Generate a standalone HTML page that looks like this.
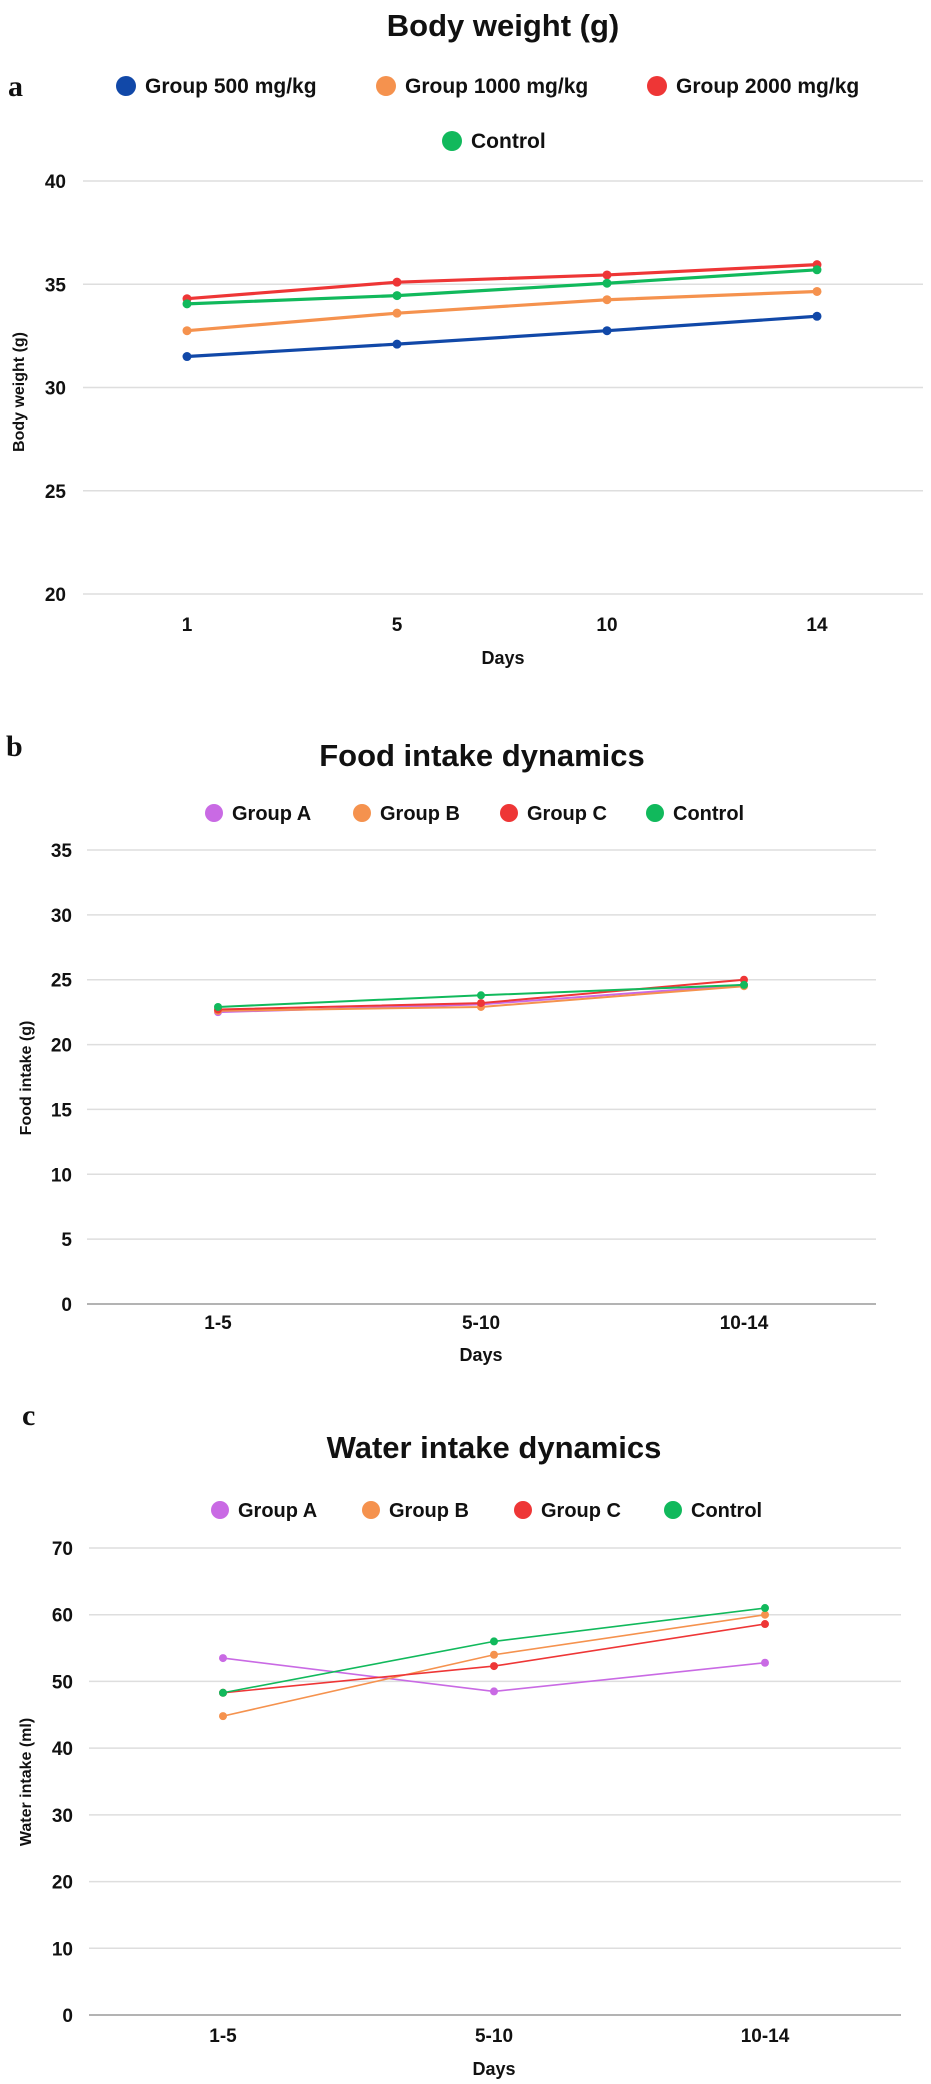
<!DOCTYPE html>
<html><head><meta charset="utf-8">
<style>
html,body{margin:0;padding:0;background:#fff;}
svg{display:block;font-family:"Liberation Sans",sans-serif;}
text{font-weight:bold;fill:#111;}
</style></head>
<body>
<svg id="fig" width="931" height="2084" viewBox="0 0 931 2084" xmlns="http://www.w3.org/2000/svg"></svg>
<script>
// ---- Chart a data ----
const aCategories = ["1","5","10","14"];
const aSeriesNames = ["Group 500 mg/kg","Group 1000 mg/kg","Group 2000 mg/kg","Control"];
const aBlue = [31.5,32.1,32.75,33.45];
const aOrange = [32.75,33.6,34.25,34.65];
const aRed = [34.3,35.1,35.45,35.95];
const aGreen = [34.05,34.45,35.05,35.7];
const aTicks = [20,25,30,35,40];
// ---- Chart b data ----
const bCategories = ["1-5","5-10","10-14"];
const bSeriesNames = ["Group A","Group B","Group C","Control"];
const bA = [22.5,23.1,24.6];
const bB = [22.6,22.9,24.5];
const bC = [22.7,23.2,25.0];
const bCtrl = [22.9,23.8,24.6];
const bTicks = [0,5,10,15,20,25,30,35];
// ---- Chart c data ----
const cCategories = ["1-5","5-10","10-14"];
const cSeriesNames = ["Group A","Group B","Group C","Control"];
const cA = [53.5,48.5,52.8];
const cB = [44.8,54,60];
const cC = [48.3,52.3,58.6];
const cCtrl = [48.3,56,61];
const cTicks = [0,10,20,30,40,50,60,70];

const NS="http://www.w3.org/2000/svg";
const svg=document.getElementById('fig');
function mk(tag,attrs,parent,txt){const e=document.createElementNS(NS,tag);for(const k in attrs)e.setAttribute(k,attrs[k]);if(txt!==undefined)e.textContent=txt;(parent||svg).appendChild(e);return e;}

const BLUE="#1148a8",ORANGE="#f5924e",RED="#ee3636",GREEN="#11b95c",PURPLE="#c96ae4";

function chart(cfg){
  const g=mk('g',{});
  
  
  const y=v=>cfg.y0+(v-cfg.vmin)/(cfg.vmax-cfg.vmin)*(cfg.y1-cfg.y0);
  const x=i=>cfg.xs[0]+i*(cfg.xs[1]-cfg.xs[0]);
  const pl=mk('text',{x:cfg.letterX,y:cfg.letterY,'font-family':'Liberation Serif, serif','font-size':30},g,cfg.letter);
  
  
  const t=mk('text',{x:cfg.titleX,y:cfg.titleY,'text-anchor':'middle','font-size':cfg.titleSize},g,cfg.title);
  
  
  cfg.legend.forEach((L,i)=>{
    const lg=mk('g',{},g);
    
    
    mk('circle',{cx:L.x,cy:L.y,r:cfg.legR,fill:L.color},lg);
    mk('text',{x:L.x+cfg.legR+9,y:L.y+7,'font-size':cfg.legSize},lg,L.label);
  });
  cfg.ticks.forEach(v=>{
    const yy=y(v);
    const gl=mk('line',{x1:cfg.gx0,x2:cfg.gx1,y1:yy,y2:yy,stroke:(v===cfg.vmin&&cfg.zeroDark)?'#9a9a9a':'#dedede','stroke-width':1.5},g);
    
    
    const tl=mk('text',{x:cfg.tickX,y:yy+7,'text-anchor':'end','font-size':19},g,String(v));
    
    
  });
  cfg.cats.forEach((c,i)=>{
    const tl=mk('text',{x:x(i),y:cfg.xTickY,'text-anchor':'middle','font-size':19},g,c);
    
    
  });
  const xt=mk('text',{x:cfg.xTitleX,y:cfg.xTitleY,'text-anchor':'middle','font-size':18},g,'Days');
  
  
  const yt=mk('text',{x:0,y:0,'text-anchor':'middle','font-size':16,transform:`translate(${cfg.yTitleX},${cfg.yTitleY}) rotate(-90)`},g,cfg.yTitle);
  
  
  cfg.series.forEach(s=>{
    const sg=mk('g',{},g);
    
    
    const pts=s.data.map((v,i)=>x(i)+','+y(v)).join(' ');
    const pl=mk('polyline',{points:pts,fill:'none',stroke:s.color,'stroke-width':cfg.lw,'stroke-linejoin':'round'},sg);
    
    
    s.data.forEach((v,i)=>{
      const p=mk('circle',{cx:x(i),cy:y(v),r:cfg.pr,fill:s.color},sg);
      
      
    });
  });
}

chart({name:'body-weight-chart',letter:'a',letterX:8,letterY:96,title:'Body weight (g)',titleX:503,titleY:36,titleSize:31,
  legR:10,legSize:21,
  legend:[{x:126,y:86,color:BLUE,label:aSeriesNames[0]},{x:386,y:86,color:ORANGE,label:aSeriesNames[1]},{x:657,y:86,color:RED,label:aSeriesNames[2]},{x:452,y:141,color:GREEN,label:aSeriesNames[3]}],
  vmin:20,vmax:40,y0:594,y1:181,ticks:aTicks,gx0:83,gx1:923,tickX:66,
  cats:aCategories,xs:[187,397],xTickY:631,xTitleX:503,xTitleY:664,
  yTitle:'Body weight (g)',yTitleX:24,yTitleY:392,lw:3.2,pr:4.5,
  series:[{key:'group-500',color:BLUE,data:aBlue},{key:'group-1000',color:ORANGE,data:aOrange},{key:'group-2000',color:RED,data:aRed},{key:'control',color:GREEN,data:aGreen}]});

chart({name:'food-intake-chart',letter:'b',letterX:6,letterY:756,title:'Food intake dynamics',titleX:482,titleY:766,titleSize:31,
  legR:9,legSize:20,
  legend:[{x:214,y:813,color:PURPLE,label:bSeriesNames[0]},{x:362,y:813,color:ORANGE,label:bSeriesNames[1]},{x:509,y:813,color:RED,label:bSeriesNames[2]},{x:655,y:813,color:GREEN,label:bSeriesNames[3]}],
  vmin:0,vmax:35,y0:1304,y1:850,ticks:bTicks,gx0:87,gx1:876,tickX:72,zeroDark:true,
  cats:bCategories,xs:[218,481],xTickY:1329,xTitleX:481,xTitleY:1361,
  yTitle:'Food intake (g)',yTitleX:31,yTitleY:1078,lw:2,pr:4,
  series:[{key:'group-a',color:PURPLE,data:bA},{key:'group-b',color:ORANGE,data:bB},{key:'group-c',color:RED,data:bC},{key:'control',color:GREEN,data:bCtrl}]});

chart({name:'water-intake-chart',letter:'c',letterX:22,letterY:1425,title:'Water intake dynamics',titleX:494,titleY:1458,titleSize:31,
  legR:9,legSize:20,
  legend:[{x:220,y:1510,color:PURPLE,label:cSeriesNames[0]},{x:371,y:1510,color:ORANGE,label:cSeriesNames[1]},{x:523,y:1510,color:RED,label:cSeriesNames[2]},{x:673,y:1510,color:GREEN,label:cSeriesNames[3]}],
  vmin:0,vmax:70,y0:2015,y1:1548,ticks:cTicks,gx0:89,gx1:901,tickX:73,zeroDark:true,
  cats:cCategories,xs:[223,494],xTickY:2042,xTitleX:494,xTitleY:2075,
  yTitle:'Water intake (ml)',yTitleX:31,yTitleY:1782,lw:1.6,pr:4,
  series:[{key:'group-a',color:PURPLE,data:cA},{key:'group-b',color:ORANGE,data:cB},{key:'group-c',color:RED,data:cC},{key:'control',color:GREEN,data:cCtrl}]});
</script>
</body></html>
